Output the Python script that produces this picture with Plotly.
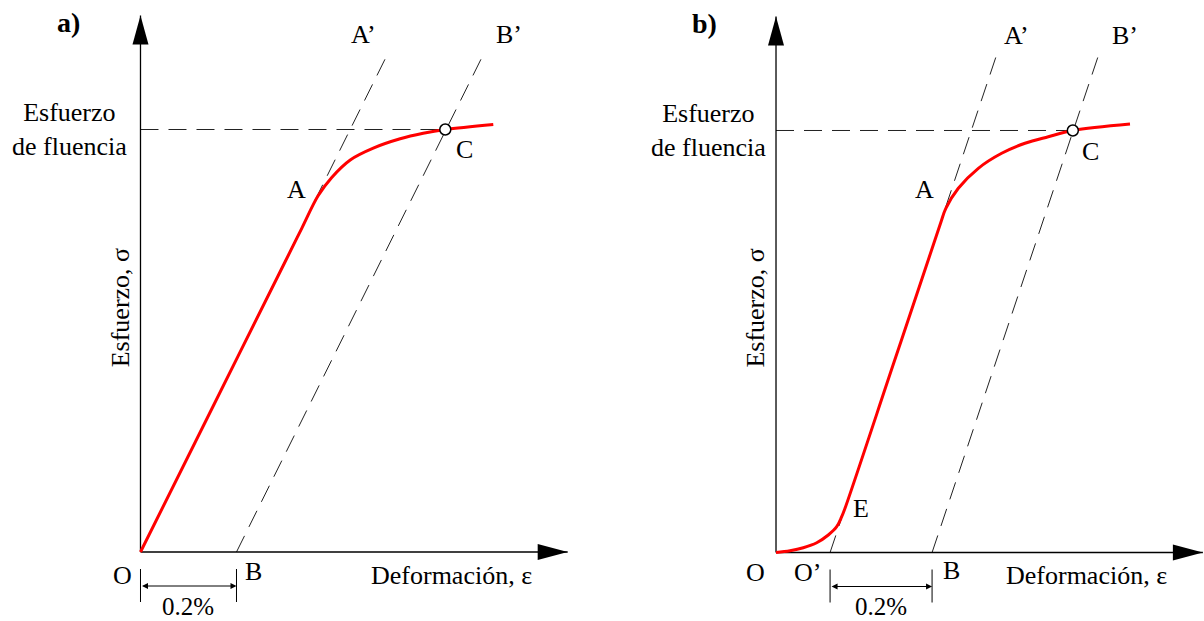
import plotly.graph_objects as go

FONT = "Liberation Serif, Times New Roman, serif"

# strain in %, stress relative to the yield stress (sigma / sigma_y)

# a) material with a linear elastic zone
eps_a = [0.0, 0.150, 0.300, 0.336, 0.370, 0.398, 0.437, 0.485, 0.541, 0.589, 0.635, 0.735]
sig_a = [0.0, 0.342, 0.684, 0.766, 0.843, 0.886, 0.928, 0.956, 0.978, 0.991, 1.0, 1.012]
elastic_a_eps = [0.0, 0.518]     # O -> A'
offset_a_eps = [0.2, 0.718]      # B -> B'
guide_a_sig = [0.0, 1.186]
point_a_A = (0.370, 0.843)
point_a_C = (0.635, 1.0)
axis_a_end = (0.89, 1.27)

# b) material with an initial toe region (O -> E)
eps_b = [0.0, 0.0275, 0.0535, 0.0798, 0.1025, 0.119, 0.1288, 0.1353, 0.2300, 0.3000,
         0.3236, 0.3330, 0.3575, 0.3967, 0.4425, 0.4882, 0.5339, 0.582, 0.6941]
sig_b = [0.0, 0.0043, 0.0114, 0.0232, 0.0415, 0.0611, 0.0848, 0.1047, 0.4459, 0.6985,
         0.7839, 0.8156, 0.8630, 0.9104, 0.9460, 0.9697, 0.9853, 1.0, 1.0154]
elastic_b_eps = [0.106, 0.435]   # O' -> A'
offset_b_eps = [0.306, 0.635]    # B -> B'
guide_b_sig = [0.0, 1.188]
point_b_A = (0.3236, 0.7839)
point_b_C = (0.582, 1.0)
point_b_E = (0.1353, 0.1047)
axis_b_end = (0.837, 1.27)


def txt(fig, text, x, y, xr, yr, dx=0, dy=0, size=26, **kw):
    fig.add_annotation(text=text, x=x, y=y, xref=xr, yref=yr, xshift=dx, yshift=dy,
                       showarrow=False, font=dict(family=FONT, size=size, color="black"), **kw)


def add_panel(fig, n, eps, sig, elastic_eps, offset_eps, guide_sig, pt_c, ax_end, tag):
    """Draws one stress-strain panel on subplot n (1 or 2)."""
    xa, ya = ("x", "y") if n == 1 else ("x2", "y2")
    dash = dict(color="#222", width=1, dash="18px,10px")

    # construction lines
    for xs, ys in [([0, pt_c[0]], [1.0, 1.0]),
                   (elastic_eps, guide_sig),
                   (offset_eps, guide_sig)]:
        fig.add_trace(go.Scatter(x=xs, y=ys, mode="lines", line=dash,
                                 xaxis=xa, yaxis=ya, hoverinfo="skip"))

    # axes with arrows
    axis_line = dict(color="black", width=1.3)
    fig.add_trace(go.Scatter(x=[0, 0], y=[0, ax_end[1]], mode="lines", line=axis_line,
                             xaxis=xa, yaxis=ya, hoverinfo="skip"))
    fig.add_trace(go.Scatter(x=[0, ax_end[0]], y=[0, 0], mode="lines", line=axis_line,
                             xaxis=xa, yaxis=ya, hoverinfo="skip"))
    fig.add_shape(type="path", xref=xa, yref=ya, xsizemode="pixel", ysizemode="pixel",
                  xanchor=0, yanchor=ax_end[1], path="M0,0 L-8,-29 L8,-29 Z",
                  fillcolor="black", line_width=0)
    fig.add_shape(type="path", xref=xa, yref=ya, xsizemode="pixel", ysizemode="pixel",
                  xanchor=ax_end[0], yanchor=0, path="M0,0 L-30,8 L-30,-8 Z",
                  fillcolor="black", line_width=0)

    # stress-strain curve
    fig.add_trace(go.Scatter(x=eps, y=sig, mode="lines",
                             line=dict(color="#ff0000", width=3, shape="spline", smoothing=1.0),
                             xaxis=xa, yaxis=ya, hoverinfo="skip"))
    fig.add_trace(go.Scatter(x=[pt_c[0]], y=[pt_c[1]], mode="markers",
                             marker=dict(size=11, color="white", line=dict(color="black", width=1.5)),
                             xaxis=xa, yaxis=ya, hoverinfo="skip"))

    # 0.2 % offset dimension
    for xv in offset_eps[:1] + [elastic_eps[0]]:
        fig.add_shape(type="line", xref=xa, yref=ya, ysizemode="pixel", yanchor=0,
                      x0=xv, x1=xv, y0=-17, y1=-50, line=dict(color="black", width=1))
    fig.add_annotation(x=offset_eps[0], y=0, ax=elastic_eps[0], ay=0, xref=xa, yref=ya,
                       axref=xa, ayref=ya, text="", showarrow=True, arrowside="end+start",
                       arrowhead=2, arrowsize=1.2, arrowwidth=1, arrowcolor="black",
                       standoff=0, startstandoff=0, yshift=-34)
    txt(fig, "0.2%", (offset_eps[0] + elastic_eps[0]) / 2, 0, xa, ya, dy=-54, size=25)

    # axis titles
    txt(fig, "Deformación, ε", ax_end[0], 0, xa, ya, dx=-34, dy=-23, xanchor="right")
    txt(fig, "Esfuerzo, σ", 0, 0.578, xa, ya, dx=-20, textangle=-90)
    txt(fig, "Esfuerzo<br>de fluencia", 0, 1.0, xa, ya,
        dx=-71 if n == 1 else -68, dy=0, align="center")
    txt(fig, "<b>" + tag + "</b>", 0, ax_end[1], xa, ya, dx=-72, dy=-7, size=28)


fig = go.Figure()
add_panel(fig, 1, eps_a, sig_a, elastic_a_eps, offset_a_eps, guide_a_sig,
          point_a_C, axis_a_end, "a)")
add_panel(fig, 2, eps_b, sig_b, elastic_b_eps, offset_b_eps, guide_b_sig,
          point_b_C, axis_b_end, "b)")

# point labels, panel a
txt(fig, "A", *point_a_A, "x", "y", dx=-22, dy=6)
txt(fig, "C", *point_a_C, "x", "y", dx=19, dy=-20)
txt(fig, "A’", elastic_a_eps[1], guide_a_sig[1], "x", "y", dx=-26, dy=16)
txt(fig, "B’", offset_a_eps[1], guide_a_sig[1], "x", "y", dx=24, dy=16)
txt(fig, "O", 0, 0, "x", "y", dx=-18, dy=-23)
txt(fig, "B", offset_a_eps[0], 0, "x", "y", dx=17, dy=-19)

# point labels, panel b
txt(fig, "A", *point_b_A, "x2", "y2", dx=-17, dy=32)
txt(fig, "C", *point_b_C, "x2", "y2", dx=18, dy=-21)
txt(fig, "E", *point_b_E, "x2", "y2", dx=16, dy=0)
txt(fig, "A’", elastic_b_eps[1], guide_b_sig[1], "x2", "y2", dx=19, dy=16)
txt(fig, "B’", offset_b_eps[1], guide_b_sig[1], "x2", "y2", dx=25, dy=16)
txt(fig, "O", 0, 0, "x2", "y2", dx=-21, dy=-20)
txt(fig, "O’", elastic_b_eps[0], 0, "x2", "y2", dx=-23, dy=-20)
txt(fig, "B", offset_b_eps[0], 0, "x2", "y2", dx=19, dy=-18)

fig.update_layout(
    width=1204, height=621,
    margin=dict(l=0, r=0, t=0, b=0),
    paper_bgcolor="white", plot_bgcolor="white",
    showlegend=False,
    xaxis=dict(domain=[0, 0.5], range=[-0.2927, 0.9615], visible=False),
    yaxis=dict(domain=[0, 1], range=[-0.1633, 1.3065], visible=False),
    xaxis2=dict(domain=[0.5, 1], range=[-0.3412, 0.8392], visible=False, anchor="y2"),
    yaxis2=dict(domain=[0, 1], range=[-0.1623, 1.3092], visible=False, anchor="x2"),
)

fig.write_html("out.html", config={"displayModeBar": False},
               post_script="document.body.style.margin='0';")
